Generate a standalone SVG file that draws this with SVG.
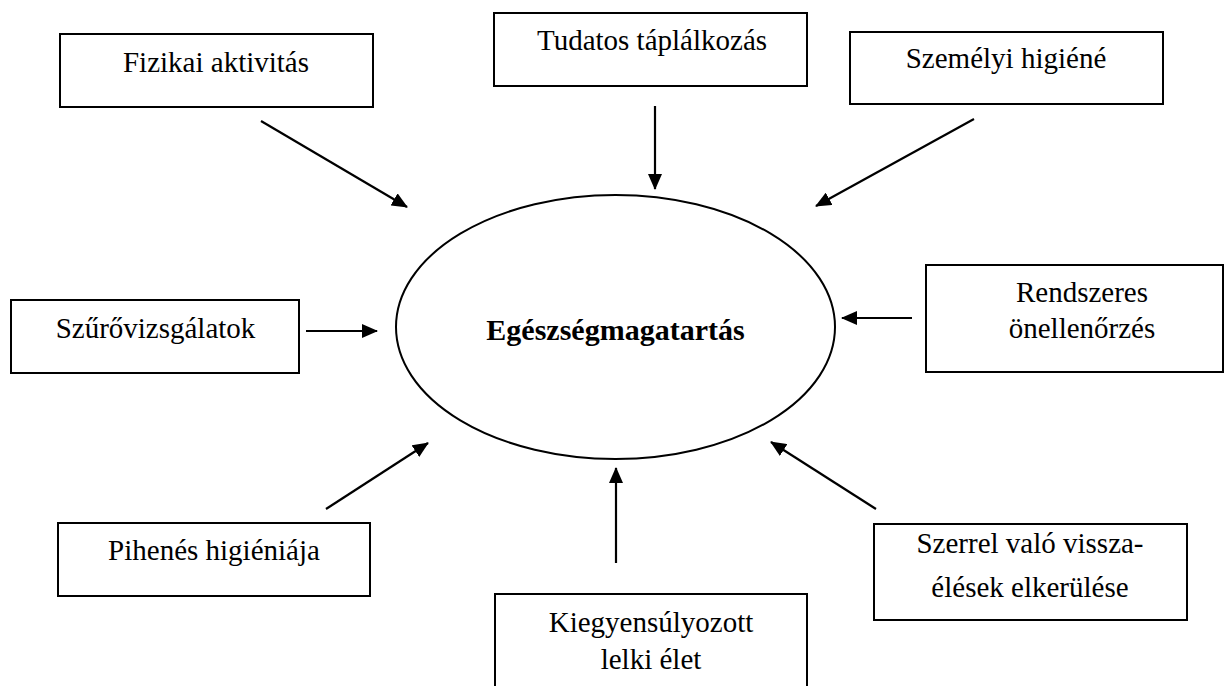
<svg xmlns="http://www.w3.org/2000/svg" width="1225" height="686" viewBox="0 0 1225 686">
  <style>
    .box { fill: #fff; stroke: #000; stroke-width: 2; }
    .conn line { stroke: #000; stroke-width: 2.2; marker-end: url(#head); }
  </style>
  <defs>
    <marker id="head" markerUnits="userSpaceOnUse" viewBox="0 0 16 14" markerWidth="16" markerHeight="14" refX="15" refY="7" orient="auto">
      <path d="M0,0 L16,7 L0,14 Z" fill="#000"/>
    </marker>
  </defs>
  <rect width="1225" height="686" fill="#fff"/>

  <g id="center" font-family="Liberation Serif, serif" text-anchor="middle">
    <ellipse cx="615.5" cy="327" rx="219.5" ry="132" fill="none" stroke="#000" stroke-width="2"/>
    <text x="615.5" y="340" font-family="Liberation Serif" font-size="30" font-weight="bold">Egészségmagatartás</text>
  </g>

  <g id="fizikai" text-anchor="middle">
    <rect class="box" x="60" y="34" width="313" height="73"/>
    <text x="216" y="72" font-family="Liberation Serif" font-size="29">Fizikai aktivitás</text>
  </g>

  <g id="tudatos" text-anchor="middle">
    <rect class="box" x="494" y="13" width="313" height="73"/>
    <text x="652" y="50" font-family="Liberation Serif" font-size="29">Tudatos táplálkozás</text>
  </g>

  <g id="szemelyi" text-anchor="middle">
    <rect class="box" x="850" y="32" width="313" height="72"/>
    <text x="1006" y="68" font-family="Liberation Serif" font-size="29">Személyi higiéné</text>
  </g>

  <g id="szurovizsgalatok" text-anchor="middle">
    <rect class="box" x="11" y="300" width="288" height="73"/>
    <text x="155.5" y="338" font-family="Liberation Serif" font-size="29">Szűrővizsgálatok</text>
  </g>

  <g id="rendszeres" text-anchor="middle">
    <rect class="box" x="926" y="265" width="297" height="107"/>
    <text x="1082" y="302" font-family="Liberation Serif" font-size="29">Rendszeres</text>
    <text x="1082" y="338" font-family="Liberation Serif" font-size="29">önellenőrzés</text>
  </g>

  <g id="pihenes" text-anchor="middle">
    <rect class="box" x="58" y="523" width="312" height="73"/>
    <text x="214" y="560" font-family="Liberation Serif" font-size="29">Pihenés higiéniája</text>
  </g>

  <g id="kiegyensulyozott" text-anchor="middle">
    <rect class="box" x="495" y="594" width="312" height="100"/>
    <text x="651" y="632" font-family="Liberation Serif" font-size="29">Kiegyensúlyozott</text>
    <text x="651" y="669" font-family="Liberation Serif" font-size="29">lelki élet</text>
  </g>

  <g id="szerrel" text-anchor="middle">
    <rect class="box" x="874" y="524" width="313" height="96"/>
    <text x="1030" y="553" font-family="Liberation Serif" font-size="29">Szerrel való vissza-</text>
    <text x="1030" y="597" font-family="Liberation Serif" font-size="29">élések elkerülése</text>
  </g>

  <g id="connectors" class="conn">
    <line x1="261" y1="121" x2="407" y2="207"/>
    <line x1="655" y1="106" x2="655" y2="189"/>
    <line x1="974" y1="119" x2="816" y2="206"/>
    <line x1="306" y1="331" x2="377" y2="331"/>
    <line x1="912" y1="318" x2="842" y2="318"/>
    <line x1="326" y1="509" x2="428" y2="443"/>
    <line x1="616" y1="563" x2="616" y2="468"/>
    <line x1="876" y1="509" x2="771" y2="442"/>
  </g>
</svg>
